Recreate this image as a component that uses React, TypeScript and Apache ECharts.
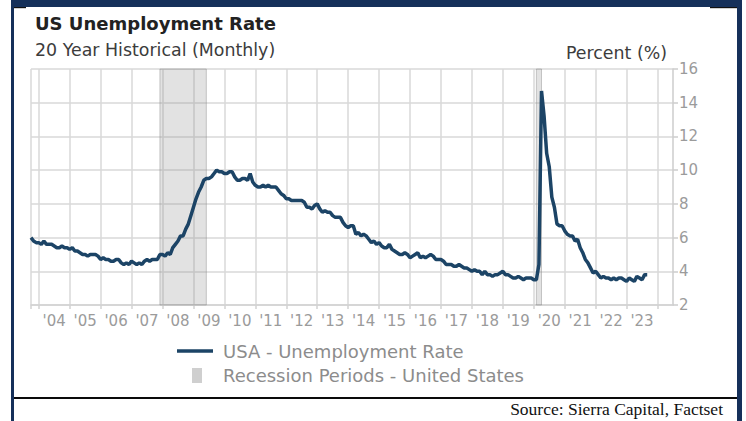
import React, { useEffect, useRef } from "react";
import * as echarts from "echarts";

// ---- data (monthly US unemployment rate, %) ----
const firstYear = 2003;
const firstMonth = 10; // first category: Oct 2003
const lastYear = 2024;
const lastMonth = 7; // axis extends to Jul 2024

const rate2003 = [6.0, 5.8, 5.7]; // Oct-Dec
const rate2004 = [5.7, 5.6, 5.8, 5.6, 5.6, 5.6, 5.5, 5.4, 5.4, 5.5, 5.4, 5.4];
const rate2005 = [5.3, 5.4, 5.2, 5.2, 5.1, 5.0, 5.0, 4.9, 5.0, 5.0, 5.0, 4.9];
const rate2006 = [4.7, 4.8, 4.7, 4.7, 4.6, 4.6, 4.7, 4.7, 4.5, 4.4, 4.5, 4.4];
const rate2007 = [4.6, 4.5, 4.4, 4.5, 4.4, 4.6, 4.7, 4.6, 4.7, 4.7, 4.7, 5.0];
const rate2008 = [5.0, 4.9, 5.1, 5.0, 5.4, 5.6, 5.8, 6.1, 6.1, 6.5, 6.8, 7.3];
const rate2009 = [7.8, 8.3, 8.7, 9.0, 9.4, 9.5, 9.5, 9.6, 9.8, 10.0, 9.9, 9.9];
const rate2010 = [9.8, 9.8, 9.9, 9.9, 9.6, 9.4, 9.4, 9.5, 9.5, 9.4, 9.8, 9.3];
const rate2011 = [9.1, 9.0, 9.0, 9.1, 9.0, 9.1, 9.0, 9.0, 9.0, 8.8, 8.6, 8.5];
const rate2012 = [8.3, 8.3, 8.2, 8.2, 8.2, 8.2, 8.2, 8.1, 7.8, 7.8, 7.7, 7.9];
const rate2013 = [8.0, 7.7, 7.5, 7.6, 7.5, 7.5, 7.3, 7.2, 7.2, 7.2, 6.9, 6.7];
const rate2014 = [6.6, 6.7, 6.7, 6.2, 6.3, 6.1, 6.2, 6.1, 5.9, 5.7, 5.8, 5.6];
const rate2015 = [5.7, 5.5, 5.4, 5.4, 5.6, 5.3, 5.2, 5.1, 5.0, 5.0, 5.1, 5.0];
const rate2016 = [4.8, 4.9, 5.0, 5.1, 4.8, 4.9, 4.8, 4.9, 5.0, 4.9, 4.7, 4.7];
const rate2017 = [4.7, 4.6, 4.4, 4.4, 4.4, 4.3, 4.3, 4.4, 4.3, 4.2, 4.2, 4.1];
const rate2018 = [4.0, 4.1, 4.0, 4.0, 3.8, 4.0, 3.8, 3.8, 3.7, 3.8, 3.8, 3.9];
const rate2019 = [4.0, 3.8, 3.8, 3.7, 3.6, 3.6, 3.7, 3.6, 3.5, 3.6, 3.6, 3.6];
const rate2020 = [3.5, 3.5, 4.4, 14.7, 13.2, 11.0, 10.2, 8.4, 7.8, 6.8, 6.7, 6.7];
const rate2021 = [6.4, 6.2, 6.1, 6.1, 5.8, 5.9, 5.4, 5.1, 4.7, 4.5, 4.2, 3.9];
const rate2022 = [4.0, 3.8, 3.6, 3.7, 3.6, 3.6, 3.5, 3.6, 3.5, 3.6, 3.6, 3.5];
const rate2023 = [3.4, 3.6, 3.5, 3.4, 3.7, 3.6, 3.5, 3.8, 3.8]; // Jan-Sep

const yearLabels = ["'04", "'05", "'06", "'07", "'08", "'09", "'10", "'11", "'12", "'13", "'14", "'15", "'16", "'17", "'18", "'19", "'20", "'21", "'22", "'23"];
const firstLabelYear = 2004;

const recessions: [string, string][] = [
  ["2007-12", "2009-06"],
  ["2020-02", "2020-04"],
];

const yMin = 2;
const yMax = 16;
const yStep = 2;

const seriesName = "USA - Unemployment Rate";
const recessionName = "Recession Periods - United States";
const titleText = "US Unemployment Rate";
const subtitleText = "20 Year Historical (Monthly)";
const unitText = "Percent (%)";
const sourceText = "Source: Sierra Capital, Factset";

// ---- derived ----
const rates: number[] = [
  ...rate2003, ...rate2004, ...rate2005, ...rate2006, ...rate2007, ...rate2008,
  ...rate2009, ...rate2010, ...rate2011, ...rate2012, ...rate2013, ...rate2014,
  ...rate2015, ...rate2016, ...rate2017, ...rate2018, ...rate2019, ...rate2020,
  ...rate2021, ...rate2022, ...rate2023,
];

const categories: string[] = [];
for (let y = firstYear, m = firstMonth; y < lastYear || (y === lastYear && m <= lastMonth); ) {
  categories.push(`${y}-${String(m).padStart(2, "0")}`);
  m++;
  if (m > 12) { m = 1; y++; }
}

const NAVY = "#1c4466";
const FRAME = "#15305a";
const GRID = "#d9d9d9";
const AXIS_TXT = "#9b9b9b";
const SANS = '"DejaVu Sans", Verdana, sans-serif';

const isGridMonth = (idx: number, value: string) => idx === 0 || String(value).endsWith("-01");
const isLabelMonth = (_idx: number, value: string) => {
  const v = String(value);
  const yr = Number(v.slice(0, 4));
  return v.endsWith("-07") && yr - firstLabelYear >= 0 && yr - firstLabelYear < yearLabels.length;
};

function txt(text: string, x: number, y: number, size: number, fill: string, opts: any = {}) {
  return {
    type: "text",
    x,
    y,
    silent: true,
    scaleX: opts.scaleX ?? 1,
    style: {
      text,
      fontSize: size,
      fontFamily: opts.family ?? SANS,
      fontWeight: opts.weight ?? "normal",
      fill,
      align: opts.align ?? "left",
      textAlign: opts.align ?? "left",
      verticalAlign: "middle",
      textVerticalAlign: "middle",
    },
  };
}

export default function App() {
  const ref = useRef<HTMLDivElement>(null);
  useEffect(() => {
    if (!ref.current) return;
    const chart = echarts.init(ref.current, null, { renderer: "svg" });
    chart.setOption({
      animation: false,
      backgroundColor: "#ffffff",
      grid: { left: 31, right: 73, top: 69, bottom: 116, containLabel: false },
      xAxis: {
        type: "category",
        data: categories,
        boundaryGap: false,
        axisLine: { show: true, lineStyle: { color: "#d2d2d2", width: 1.5 } },
        axisTick: { show: true, length: 4, interval: isGridMonth, lineStyle: { color: "#d2d2d2", width: 1.5 } },
        axisLabel: {
          interval: isLabelMonth,
          formatter: (v: string) => yearLabels[Number(String(v).slice(0, 4)) - firstLabelYear],
          color: AXIS_TXT,
          fontFamily: SANS,
          fontSize: 15,
          margin: 8,
        },
        splitLine: { show: true, interval: isGridMonth, lineStyle: { color: GRID, width: 1.5 } },
      },
      yAxis: {
        type: "value",
        position: "right",
        min: yMin,
        max: yMax,
        interval: yStep,
        axisLine: { show: true, lineStyle: { color: "#cccccc", width: 1.5 } },
        axisTick: { show: true, length: 5, lineStyle: { color: "#cccccc", width: 1.5 } },
        axisLabel: { color: AXIS_TXT, fontFamily: SANS, fontSize: 15, margin: 6 },
        splitLine: { show: true, lineStyle: { color: GRID, width: 1.5 } },
      },
      series: [
        {
          type: "line",
          name: seriesName,
          data: rates,
          symbol: "none",
          showSymbol: false,
          lineStyle: { color: NAVY, width: 3.5 },
          itemStyle: { color: NAVY },
          z: 3,
          markArea: {
            silent: true,
            itemStyle: { color: "rgba(140,140,140,0.25)", borderColor: "rgba(140,140,140,0.45)", borderWidth: 1 },
            data: recessions.map(([a, b]) => [{ xAxis: a }, { xAxis: b }]),
          },
        },
      ],
      graphic: [
        // frame
        { type: "rect", silent: true, shape: { x: 11, y: 0, width: 731, height: 7 }, style: { fill: FRAME } },
        { type: "rect", silent: true, shape: { x: 11, y: 0, width: 3, height: 421 }, style: { fill: FRAME } },
        { type: "rect", silent: true, shape: { x: 737, y: 0, width: 5, height: 421 }, style: { fill: FRAME } },
        { type: "rect", silent: true, shape: { x: 14, y: 7, width: 12, height: 1.2 }, style: { fill: "#111111" } },
        { type: "rect", silent: true, shape: { x: 710, y: 7, width: 27, height: 1.2 }, style: { fill: "#111111" } },
        { type: "rect", silent: true, shape: { x: 14, y: 397, width: 723, height: 2 }, style: { fill: "#0a0a0a" } },
        // titles
        txt(titleText, 35, 23, 18, "#222222", { weight: "bold" }),
        txt(subtitleText, 35, 50, 17.4, "#3c3c3c"),
        txt(unitText, 667, 53, 17.4, "#3c3c3c", { align: "right" }),
        // legend
        { type: "line", silent: true, shape: { x1: 177, y1: 351, x2: 213, y2: 351 }, style: { stroke: NAVY, lineWidth: 3.5 } },
        txt(seriesName, 223, 351, 18, "#8c8c8c"),
        { type: "rect", silent: true, shape: { x: 192, y: 368, width: 10, height: 15 }, style: { fill: "#cfcfcf" } },
        txt(recessionName, 223, 375, 18, "#8c8c8c"),
        // source
        txt(sourceText, 723, 409, 17.5, "#111111", { align: "right", family: '"Liberation Serif", "Times New Roman", serif' }),
      ],
    });
    return () => chart.dispose();
  }, []);
  return (
    <div
      ref={ref}
      style={{ position: "fixed", left: 0, top: 0, width: 746, height: 421, background: "#fff" }}
    />
  );
}
